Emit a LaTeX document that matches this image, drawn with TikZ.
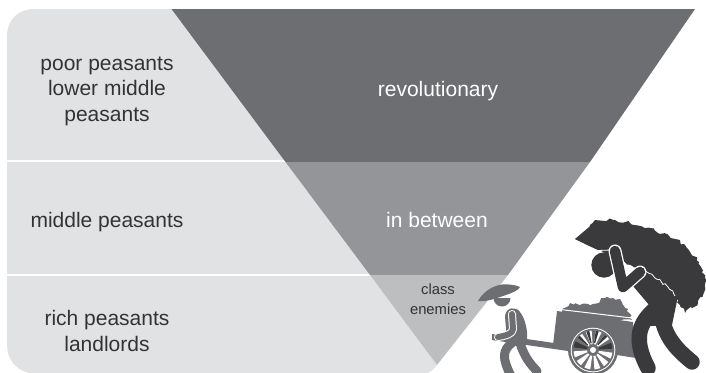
\documentclass[tikz,border=0pt]{standalone}
\usepackage{fontspec}
\setmainfont{Liberation Sans}
\usetikzlibrary{decorations.pathmorphing}
\definecolor{panelc}{HTML}{E1E2E3}
\definecolor{darkband}{HTML}{6D6E71}
\definecolor{midband}{HTML}{939598}
\definecolor{lightband}{HTML}{BCBEC0}
\definecolor{inkc}{HTML}{333335}
\definecolor{manc}{HTML}{3A3A3C}
\definecolor{cartc}{HTML}{6D6E71}
\tikzset{
  label text/.style={text=inkc,font=\fontsize{21}{25.5}\selectfont,align=center,inner sep=0pt},
  band text/.style={text=white,font=\fontsize{21}{25}\selectfont,align=center,inner sep=0pt},
  small text/.style={text=inkc,font=\fontsize{14.8}{20}\selectfont,align=center,inner sep=0pt},
  limb/.style={line width=#1,line cap=round,line join=round},
  jag/.style={decorate,decoration={random steps,segment length=3pt,amplitude=1.7pt}}
}
\begin{document}
\begin{tikzpicture}[x=1pt,y=-1pt]
\useasboundingbox (0,0) rectangle (706,372);
\clip (0,0) rectangle (706,372);
% panel
\fill[panelc] (7,36) .. controls (7,20) and (18,9) .. (34,9) -- (172,9) -- (437,365)
  .. controls (434,369) and (432,371) .. (428,373) -- (30,373) .. controls (17,371) and (7,360) .. (7,345) -- cycle;
\fill[white] (7,160) rectangle (290,162);
\fill[white] (7,274) rectangle (375,276);
% inverted triangle bands
\fill[darkband] (171.5,9) -- (695,9) -- (590,162) -- (285.5,162) -- cycle;
\fill[midband] (285.5,162) -- (590,162) -- (508,275) -- (370,275) -- cycle;
\fill[lightband] (370,275) -- (508,275) -- (437,365) -- cycle;
% texts
\node[label text] (poor) at (107,91) {poor peasants\\lower middle\\peasants};
\node[label text] (middle) at (107,222.5) {middle peasants};
\node[label text] (rich) at (107,331) {rich peasants\\landlords};
\node[band text] (rev) at (438,91.5) {revolutionary};
\node[band text] (between) at (437,219.5) {in between};
\node[small text] (enemies) at (438,299) {class\\enemies};
% cart
\fill[cartc,jag] (562,309) -- (570,303) -- (582,304) -- (593,304) -- (605,298) -- (620,299) -- (628,309) -- (632,320) -- (600,320) -- (565,316) -- cycle;
\fill[cartc] (557,311) -- (633,322) -- (636,358) -- (553,345) -- cycle;
\draw[white,line width=1pt] (556,309) -- (632,318);
% wheel
\begin{scope}[shift={(593,350)}]
  \fill[cartc] (0,0) circle[radius=25];
  \fill[white] (0,0) circle[radius=22.3];
  \fill[cartc] (0,0) circle[radius=21.3];
  \foreach \a/\c in {8/white,38/white,68/white,98/white,128/white,158/white,188/manc,218/white,248/white,278/white,308/white,338/manc}{
    \fill[\c] (\a:6) -- (\a:19.5) arc[start angle=\a,end angle=\a+18,radius=19.5] -- (\a+18:6) -- cycle;
  }
  \foreach \a in {218,250,278,308}{
    \fill[manc] (\a:7) -- (\a:19.5) arc[start angle=\a,end angle=\a+9,radius=19.5] -- (\a+9:7) -- cycle;
  }
  \fill[white] (0,0) circle[radius=3];
\end{scope}
% small man
\draw[cartc,limb=9pt] (513,342) .. controls (502,350) and (502,358) .. (511,376);
\draw[cartc,limb=9pt] (520,343) .. controls (524,356) and (530,364) .. (537,371);
\fill[cartc] (505,316) .. controls (506,307) and (516,306) .. (520,312) .. controls (526,320) and (528,332) .. (527,342) -- (507,342) -- cycle;
\fill[cartc] (492,334) -- (492,340) -- (568,351) -- (568,345) -- cycle;
\draw[white,limb=8pt] (512,314) -- (513,329) .. controls (513,334) and (505,336) .. (498,337);
\draw[cartc,limb=6pt] (512,314) -- (513,329) .. controls (513,334) and (505,336) .. (498,337);
\fill[cartc] (493.5,298) arc[start angle=180,end angle=0,radius=8.5] -- cycle;
\fill[cartc] (478,301) .. controls (483,292) and (492,286) .. (502,284.5) .. controls (510,284) and (516,285) .. (520,287) .. controls (519,290) and (512,293) .. (506,295) .. controls (497,298) and (487,302) .. (478,301) -- cycle;
% big man: legs and torso
\draw[manc,limb=15.5pt] (655,309) .. controls (640,322) and (632,338) .. (648,368);
\draw[manc,limb=15.5pt] (662,318) .. controls (666,340) and (680,352) .. (692,362);
\fill[manc] (640,268) -- (678,296) -- (672,325) -- (650,326) -- (648,312) -- (650,306) -- (633,286) -- cycle;
% head
\fill[manc] (604,265) circle[radius=12.7];
% load
\fill[manc,jag] (575,239) -- (585,232) -- (590,225) -- (595,220) -- (615,220) -- (630,223) -- (650,228) -- (670,237) -- (687,248) -- (699,262) -- (705,278) -- (705,290) -- (698,303) -- (685,313) -- (680,305) -- (673,295) -- (658,283) -- (643,272) -- (632,265) -- (625,262);
\fill[manc] (595,222) -- (680,240) -- (690,300) -- (650,276) -- (625,262) -- (612,250) -- (598,250) -- (587,245) -- (575,239) -- cycle;
\draw[white,line width=.8pt,jag] (642,269) -- (655,278) -- (668,287) -- (675,296);
\draw[white,line width=.8pt] (598,250.5) -- (611,250);
% arm
\draw[white,limb=13pt] (615,251) -- (623,287) -- (640,272);
\draw[manc,limb=10.5pt] (615,251) -- (623,287) -- (640,272);
\end{tikzpicture}
\end{document}
